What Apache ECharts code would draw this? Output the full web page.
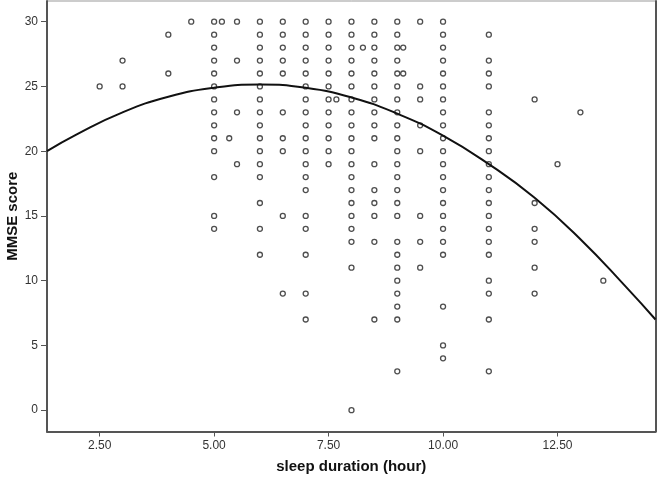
<!DOCTYPE html>
<html>
<head>
<meta charset="utf-8">
<title>MMSE score by sleep duration</title>
<script src="https://cdn.jsdelivr.net/npm/echarts@6.0.0/dist/echarts.min.js"></script>
<style>
  html, body { margin: 0; padding: 0; background: #fff; }
  #chart { width: 657px; height: 478px; }
</style>
</head>
<body>
<div id="chart"></div>
<script>
// sleep duration columns (hours) and the MMSE scores seen in each column
var sleepHours = [2.5, 3, 4, 4.5, 5, 5.17, 5.33, 5.5, 6, 6.5, 7, 7.5, 7.67, 8, 8.25, 8.5, 9, 9.13, 9.5, 10, 11, 12, 12.5, 13, 13.5];
var mmseByHour = [
    [25],
    [27, 25],
    [29, 26],
    [30],
    [30, 29, 28, 27, 26, 25, 24, 23, 22, 21, 20, 18, 15, 14],
    [30],
    [21],
    [30, 27, 23, 19],
    [30, 29, 28, 27, 26, 25, 24, 23, 22, 21, 20, 19, 18, 16, 14, 12],
    [30, 29, 28, 27, 26, 23, 21, 20, 15, 9],
    [30, 29, 28, 27, 26, 25, 24, 23, 22, 21, 20, 19, 18, 17, 15, 14, 12, 9, 7],
    [30, 29, 28, 27, 26, 25, 24, 23, 22, 21, 20, 19],
    [24],
    [30, 29, 28, 27, 26, 25, 24, 23, 22, 21, 20, 19, 18, 17, 16, 15, 14, 13, 11, 0],
    [28],
    [30, 29, 28, 27, 26, 25, 24, 23, 22, 21, 19, 17, 16, 15, 13, 7],
    [30, 29, 28, 27, 26, 25, 24, 23, 22, 21, 20, 19, 18, 17, 16, 15, 13, 12, 11, 10, 9, 8, 7, 3],
    [28, 26],
    [30, 25, 24, 22, 20, 15, 13, 11],
    [30, 29, 28, 27, 26, 25, 24, 23, 22, 21, 20, 19, 18, 17, 16, 15, 14, 13, 12, 8, 5, 4],
    [29, 27, 26, 25, 23, 22, 21, 20, 19, 18, 17, 16, 15, 14, 13, 12, 10, 9, 7, 3],
    [24, 16, 14, 13, 11, 9],
    [19],
    [23],
    [10]
];

// quadratic fit line
var fitX = [1.35, 2, 3, 4, 5, 6, 7, 8, 9, 10, 11, 12, 13, 14, 14.64];
var fitY = [20.0, 21.3, 23.0, 24.2, 24.9, 25.15, 24.9, 24.15, 22.9, 21.2, 19.0, 16.4, 13.2, 9.5, 7.0];

var xTicks = [2.5, 5, 7.5, 10, 12.5];
var yTicks = [0, 5, 10, 15, 20, 25, 30];

var points = [];
for (var i = 0; i < sleepHours.length; i++) {
    for (var j = 0; j < mmseByHour[i].length; j++) {
        points.push([sleepHours[i], mmseByHour[i][j]]);
    }
}
var fitLine = [];
for (var k = 0; k < fitX.length; k++) {
    fitLine.push([fitX[k], fitY[k]]);
}

var chart = echarts.init(document.getElementById('chart'));
var labelFont = { fontFamily: 'Liberation Sans, Arial, sans-serif', fontSize: 12, color: '#333' };
var nameFont = { fontFamily: 'Liberation Sans, Arial, sans-serif', fontSize: 15, fontWeight: 'bold', color: '#111' };

chart.setOption({
    animation: false,
    grid: {
        left: 47, right: 1.5, top: 1, bottom: 46.5,
        outerBoundsMode: 'none',
        show: true, borderColor: '#999', borderWidth: 1
    },
    xAxis: {
        type: 'value',
        min: 1.35, max: 14.64,
        name: 'sleep duration (hour)',
        nameLocation: 'middle',
        nameGap: 28,
        nameMoveOverlap: false,
        nameTextStyle: nameFont,
        axisLine: { show: true, onZero: false, lineStyle: { color: '#555', width: 2 } },
        axisTick: { show: true, customValues: xTicks, length: 5, lineStyle: { color: '#555' } },
        axisLabel: Object.assign({ customValues: xTicks, margin: 8, formatter: function (v) { return v.toFixed(2); } }, labelFont),
        splitLine: { show: false }
    },
    yAxis: [{
        type: 'value',
        min: -1.65, max: 31.6,
        name: 'MMSE score',
        nameLocation: 'middle',
        nameGap: 27,
        nameMoveOverlap: false,
        nameTextStyle: nameFont,
        axisLine: { show: true, onZero: false, lineStyle: { color: '#555', width: 2 } },
        axisTick: { show: true, customValues: yTicks, length: 6, lineStyle: { color: '#555' } },
        axisLabel: Object.assign({ customValues: yTicks, margin: 9 }, labelFont),
        splitLine: { show: false }
    }, {
        type: 'value',
        position: 'right',
        min: -1.65, max: 31.6,
        axisLine: { show: true, onZero: false, lineStyle: { color: '#555', width: 2 } },
        axisTick: { show: false },
        axisLabel: { show: false },
        splitLine: { show: false }
    }],
    series: [{
        type: 'scatter',
        data: points,
        symbol: 'circle',
        symbolSize: 5,
        itemStyle: { color: 'rgba(0,0,0,0)', borderColor: '#222', borderWidth: 1.3 },
        z: 2
    }, {
        type: 'line',
        data: fitLine,
        smooth: true,
        showSymbol: false,
        lineStyle: { color: '#111', width: 2 },
        z: 3
    }]
});
</script>
</body>
</html>
